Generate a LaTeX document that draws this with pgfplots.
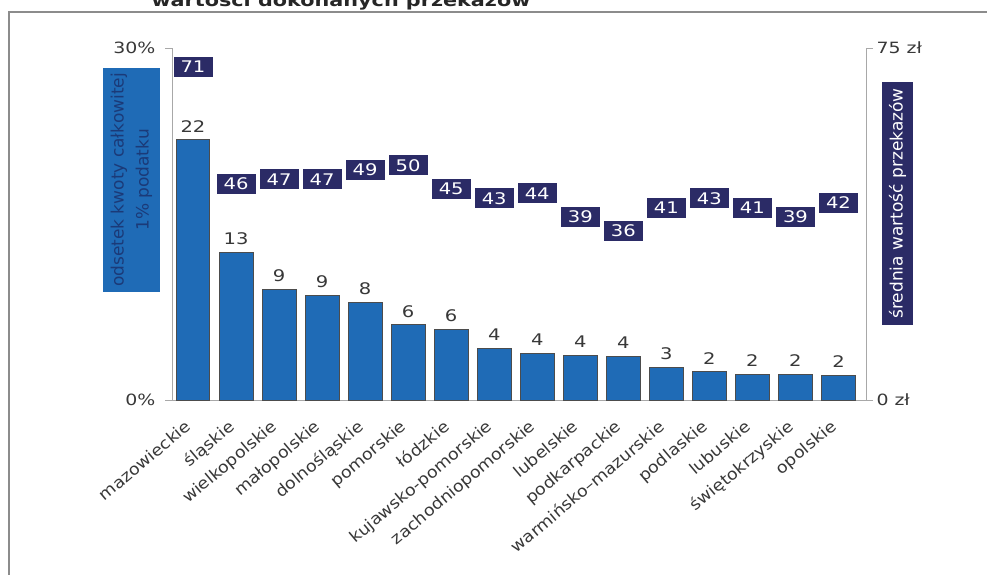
\documentclass[border=0pt]{standalone}
\usepackage{pgfplots}
\pgfplotsset{compat=1.18}
\usepackage{pgfplotstable}
\usepackage{fontspec}
\setmainfont{DejaVu Sans}[FakeStretch=1.22]
\newfontfamily\plainfont{DejaVu Sans}
\newfontfamily\catfont{DejaVu Sans}[FakeStretch=1.1]
\definecolor{barblue}{HTML}{1F6BB6}
\definecolor{navy}{HTML}{2B2B66}
\definecolor{framegray}{HTML}{8C8C8C}
\definecolor{txt}{HTML}{383838}
\definecolor{axgray}{HTML}{A8A8A8}
\definecolor{labtxt}{HTML}{1B3A78}

\pgfplotstableread{
x y lab
0 22.2 22
1 12.6 13
2 9.4 9
3 8.9 9
4 8.3 8
5 6.4 6
6 6.0 6
7 4.4 4
8 4.0 4
9 3.8 4
10 3.75 4
11 2.8 3
12 2.4 2
13 2.2 2
14 2.2 2
15 2.1 2
}\sharedata

\pgfplotstableread{
x v
0 71
1 46
2 47
3 47
4 49
5 50
6 45
7 43
8 44
9 39
10 36
11 41
12 43
13 41
14 39
15 42
}\valuedata

\begin{document}
\begin{tikzpicture}[x=1pt,y=1pt]
\path[use as bounding box] (0,0) rectangle (987,574);
\draw[framegray, line width=2.5pt] (9,-5) -- (9,562) -- (995,562);
\node[anchor=base west, font=\bfseries\fontsize{17}{20}\selectfont, text=black!85] at (148,567) {wartości dokonanych przekazów};

\begin{axis}[
  at={(172pt,174pt)}, anchor=south west,
  scale only axis, width=694pt, height=352pt,
  xmin=-0.488, xmax=15.64, ymin=0, ymax=30,
  axis x line*=bottom, axis y line*=left,
  axis line style={axgray, line width=1pt, -},
  ytick={0,30}, yticklabels={0\%,30\%},
  tick align=outside, major tick length=7pt,
  ytick style={axgray, line width=1pt},
  xtick={0,...,15}, xtick style={draw=none},
  xticklabels={mazowieckie, śląskie, wielkopolskie, małopolskie, dolnośląskie, pomorskie, łódzkie, kujawsko-pomorskie, zachodniopomorskie, lubelskie, podkarpackie, warmińsko–mazurskie, podlaskie, lubuskie, świętokrzyskie, opolskie},
  xticklabel style={xshift=-8.6pt, yshift=-8.9pt, rotate=40, anchor=north east, font=\catfont\fontsize{16}{19}\selectfont, text=txt, inner sep=2pt},
  yticklabel style={font=\fontsize{15.5}{18}\selectfont, text=txt, xshift=-6pt},
  clip=false,
]
\addplot[ybar, bar width=0.79, fill=barblue, draw=black!70, line width=1pt,
  nodes near coords, point meta=explicit symbolic,
  nodes near coords style={font=\fontsize{16}{19}\selectfont, text=txt, inner sep=5pt, yshift=2pt}]
  table[x=x, y=y, meta=lab]{\sharedata};
\end{axis}

\begin{axis}[
  at={(172pt,174pt)}, anchor=south west,
  scale only axis, width=694pt, height=352pt,
  xmin=-0.488, xmax=15.64, ymin=0, ymax=75,
  axis x line=none, axis y line*=right,
  axis line style={axgray, line width=1pt, -},
  ytick={0,75}, yticklabels={0 zł,75 zł},
  tick align=outside, major tick length=7pt,
  ytick style={axgray, line width=1pt},
  yticklabel style={font=\fontsize{15.5}{18}\selectfont, text=txt},
  clip=false,
]
\addplot[draw=none, mark=none,
  nodes near coords, point meta=explicit symbolic,
  nodes near coords align=center,
  nodes near coords style={anchor=center, font=\fontsize{16}{19}\selectfont, text=white, fill=navy, minimum width=39pt, minimum height=20pt, inner sep=0pt}]
  table[x=x, y=v, meta=v]{\valuedata};
\end{axis}

\node[fill=barblue, rotate=90, minimum width=224pt, minimum height=57pt, align=center, text=labtxt, font=\plainfont\fontsize{17}{25}\selectfont, inner sep=0pt] at (131.5,394) {odsetek kwoty całkowitej\\1\% podatku};
\node[fill=navy, rotate=90, minimum width=243pt, minimum height=31pt, text=white, font=\plainfont\fontsize{17}{19}\selectfont, inner sep=0pt] at (897.5,370.5) {średnia wartość przekazów};
\end{tikzpicture}
\end{document}
